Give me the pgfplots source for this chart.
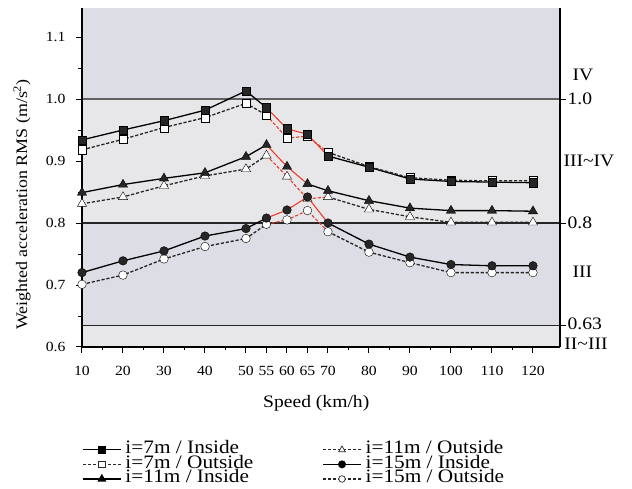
\documentclass[border=0pt]{standalone}
\usepackage{fontspec}
\setmainfont{Liberation Serif}[FakeStretch=1.12]
\usepackage{pgfplots}
\usepackage{pgfplotstable}
\pgfplotsset{compat=1.18}
\definecolor{bandA}{RGB}{221,221,229}
\definecolor{bandB}{RGB}{231,231,233}
\definecolor{redl}{RGB}{232,60,45}

\pgfplotstableread{
x y
10 0.934
20 0.950
30 0.965
40 0.982
50 1.013
55 0.986
60 0.952
65 0.943
70 0.908
80 0.890
90 0.871
100 0.867
110 0.866
120 0.865
}\sA
\pgfplotstableread{
x y
10 0.918
20 0.935
30 0.954
40 0.970
50 0.993
55 0.974
60 0.937
65 0.940
70 0.914
80 0.891
90 0.873
100 0.869
110 0.868
120 0.868
}\sB
\pgfplotstableread{
x y
10 0.849
20 0.862
30 0.872
40 0.881
50 0.907
55 0.926
60 0.891
65 0.863
70 0.852
80 0.836
90 0.824
100 0.820
110 0.820
120 0.819
}\sC
\pgfplotstableread{
x y
10 0.831
20 0.842
30 0.860
40 0.876
50 0.887
55 0.909
60 0.875
65 0.839
70 0.842
80 0.822
90 0.810
100 0.801
110 0.801
120 0.801
}\sD
\pgfplotstableread{
x y
10 0.720
20 0.739
30 0.755
40 0.779
50 0.791
55 0.808
60 0.821
65 0.842
70 0.800
80 0.766
90 0.745
100 0.733
110 0.731
120 0.731
}\sE
\pgfplotstableread{
x y
10 0.701
20 0.716
30 0.742
40 0.762
50 0.775
55 0.798
60 0.805
65 0.820
70 0.786
80 0.753
90 0.736
100 0.720
110 0.720
120 0.720
}\sF

\pgfplotsset{
  inl/.style={black, solid, line width=1.3pt},
  outl/.style={black!85, dash pattern=on 3.2pt off 1.8pt, line width=1.3pt},
  redin/.style={redl, solid, line width=1.1pt},
  redout/.style={redl, dash pattern=on 3.2pt off 1.8pt, line width=1.1pt},
  mk/.style={only marks, mark=#1, mark options={solid, draw=black, line width=0.9pt}},
}

\begin{document}
\begin{tikzpicture}
\useasboundingbox (-82pt,-142pt) rectangle (550pt,347pt);
\begin{axis}[
  at={(0pt,0pt)}, anchor=south west,
  scale only axis, width=478pt, height=339pt,
  xmin=10, xmax=126.59, ymin=0.6, ymax=1.1468,
  clip=false, axis on top,
  axis x line*=bottom, axis y line*=left,
  axis line style={line width=1.3pt, -},
  tick align=outside,
  major tick length=6pt, minor tick length=3.5pt,
  every tick/.style={black, line width=1pt},
  xtick={10,20,30,40,50,55,60,65,70,80,90,100,110,120},
  minor xtick={15,25,35,45,75,85,95,105,115},
  ytick={0.6,0.7,0.8,0.9,1.0,1.1},
  minor ytick={0.65,0.75,0.85,0.95,1.05},
  /pgf/number format/assume math mode=true,
  yticklabel style={/pgf/number format/fixed, /pgf/number format/fixed zerofill, /pgf/number format/precision=1, xshift=-7pt},
  ticklabel style={font=\fontsize{14}{14}\selectfont},
  xticklabel style={yshift=-10pt},
  xlabel={Speed (km/h)},
  ylabel={Weighted acceleration RMS (m/s\textsuperscript{2})},
  xlabel style={font=\fontsize{17.5}{17.5}\selectfont, at={(axis description cs:0.49,-0.165)}, anchor=center},
  ylabel style={font=\fontsize{16}{16}\selectfont, at={(axis description cs:-0.1255,0.42)}, anchor=center, rotate=0},
  legend columns=2,
  legend cell align=left,
  legend style={at={(axis description cs:0,-0.281)}, anchor=north west,
    draw=none, fill=none, inner sep=0pt,
    font=\fontsize{19}{15}\selectfont,
    nodes={inner sep=0pt, text height=11pt, text depth=3.6pt},
    row sep=0pt,
    /tikz/column 1/.style={column sep=4pt},
    /tikz/column 2/.style={column sep=69pt},
    /tikz/column 3/.style={column sep=4pt}},
  legend image code/.code={\draw[mark repeat=2, mark phase=2, #1] plot coordinates {(0pt,0pt)(19pt,0pt)(38pt,0pt)};},
]
% background bands
\fill[bandA] (axis cs:10,1.0) rectangle (axis cs:126.59,1.1468);
\fill[bandB] (axis cs:10,0.8) rectangle (axis cs:126.59,1.0);
\fill[bandA] (axis cs:10,0.635) rectangle (axis cs:126.59,0.8);
\fill[bandB] (axis cs:10,0.6) rectangle (axis cs:126.59,0.635);
\draw[line width=2pt, black!62] (axis cs:10,1.0) -- (axis cs:126.59,1.0);
\draw[line width=1.2pt, black!85] (axis cs:10,0.8) -- (axis cs:126.59,0.8);
\draw[line width=1.1pt, black!85] (axis cs:10,0.635) -- (axis cs:126.59,0.635);

% lines
\addplot[inl, forget plot, restrict x to domain=10:55] table {\sA};
\addplot[inl, forget plot, restrict x to domain=70:120] table {\sA};
\addplot[outl, forget plot, restrict x to domain=10:55] table {\sB};
\addplot[outl, forget plot, restrict x to domain=70:120] table {\sB};
\addplot[inl, forget plot, restrict x to domain=10:55] table {\sC};
\addplot[inl, forget plot, restrict x to domain=65:120] table {\sC};
\addplot[outl, forget plot, restrict x to domain=10:55] table {\sD};
\addplot[outl, forget plot, restrict x to domain=70:120] table {\sD};
\addplot[inl, forget plot, restrict x to domain=10:55] table {\sE};
\addplot[inl, forget plot, restrict x to domain=70:120] table {\sE};
\addplot[outl, forget plot, restrict x to domain=10:55] table {\sF};
\addplot[outl, forget plot, restrict x to domain=70:120] table {\sF};
% red segments
\addplot[redin, forget plot, restrict x to domain=55:70] table {\sA};
\addplot[redout, forget plot, restrict x to domain=55:70] table {\sB};
\addplot[redin, forget plot, restrict x to domain=55:65] table {\sC};
\addplot[redout, forget plot, restrict x to domain=55:70] table {\sD};
\addplot[redin, forget plot, restrict x to domain=55:70] table {\sE};
\addplot[redout, forget plot, restrict x to domain=55:70] table {\sF};
% markers
\addplot[mk=square*, mark size=4.2pt, mark options={fill=white}, forget plot] table {\sB};
\addplot[mk=square*, mark size=4.2pt, mark options={fill=black!85}, forget plot] table {\sA};
\addplot[mk=triangle*, mark size=5.3pt, mark options={fill=white}, forget plot] table {\sD};
\addplot[mk=triangle*, mark size=5.3pt, mark options={fill=black!85}, forget plot] table {\sC};
\addplot[mk=*, mark size=4.3pt, mark options={fill=white}, forget plot] table {\sF};
\addplot[mk=*, mark size=4.3pt, mark options={fill=black!85}, forget plot] table {\sE};

% right-side scale
\draw[line width=1.3pt] (axis cs:126.59,0.6) -- (axis cs:126.59,1.1468);
\draw[line width=1pt] (axis cs:126.59,1.0) -- (axis cs:128.05,1.0);
\draw[line width=1pt] (axis cs:126.59,0.8) -- (axis cs:128.05,0.8);
\draw[line width=1pt] (axis cs:126.59,0.635) -- (axis cs:128.05,0.635);
\node[anchor=west, inner sep=0pt, font=\fontsize{17.5}{17.5}\selectfont] at (axis cs:128.4,1.0) {1.0};
\node[anchor=west, inner sep=0pt, font=\fontsize{17.5}{17.5}\selectfont] at (axis cs:128.4,0.8) {0.8};
\node[anchor=west, inner sep=0pt, font=\fontsize{17.5}{17.5}\selectfont] at (axis cs:128.4,0.637) {0.63};
\node[anchor=west, inner sep=0pt, font=\fontsize{17.5}{17.5}\selectfont] at (axis cs:129.6,1.039) {IV};
\node[anchor=west, inner sep=0pt, font=\fontsize{17.5}{17.5}\selectfont] at (axis cs:127.4,0.9) {III\textasciitilde IV};
\node[anchor=west, inner sep=0pt, font=\fontsize{17.5}{17.5}\selectfont] at (axis cs:129.6,0.721) {III};
\node[anchor=west, inner sep=0pt, font=\fontsize{17.5}{17.5}\selectfont] at (axis cs:127.6,0.605) {II\textasciitilde III};

% legend (row-wise order for 2 columns)
\addlegendimage{inl, mark=square*, mark size=3.3pt, mark options={solid, fill=black}}
\addlegendentry{i=7m / Inside}
\addlegendimage{outl, mark=triangle*, mark size=3.8pt, mark options={solid, fill=white, line width=0.7pt}}
\addlegendentry{i=11m / Outside}
\addlegendimage{outl, mark=square*, mark size=3.3pt, mark options={solid, fill=white, line width=0.7pt}}
\addlegendentry{i=7m / Outside}
\addlegendimage{inl, mark=*, mark size=3.3pt, mark options={solid, fill=black}}
\addlegendentry{i=15m / Inside}
\addlegendimage{inl, mark=triangle*, mark size=3.8pt, mark options={solid, fill=black}}
\addlegendentry{i=11m / Inside}
\addlegendimage{outl, mark=*, mark size=3.3pt, mark options={solid, fill=white, line width=0.7pt}}
\addlegendentry{i=15m / Outside}
\end{axis}
\end{tikzpicture}
\end{document}
